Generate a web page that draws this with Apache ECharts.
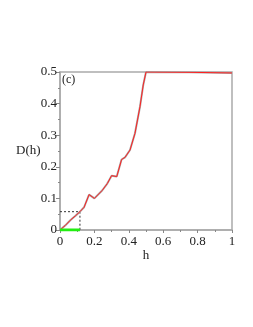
<!DOCTYPE html>
<html><head><meta charset="utf-8">
<script src="https://cdn.jsdelivr.net/npm/echarts@6/dist/echarts.min.js"></script>
<style>html,body{margin:0;padding:0;background:#fff}#c{width:253px;height:327px}</style>
</head><body><div id="c"></div>
<script>
const hVals = [0, 0.03, 0.06, 0.09, 0.116, 0.14, 0.169, 0.2, 0.245, 0.275, 0.30, 0.33, 0.358, 0.378, 0.407, 0.436, 0.465, 0.484, 0.5, 0.75, 1];
const dVals = [0, 0.014, 0.031, 0.045, 0.058, 0.072, 0.112, 0.100, 0.125, 0.147, 0.172, 0.169, 0.223, 0.230, 0.253, 0.306, 0.390, 0.459, 0.500, 0.499, 0.497];
const greenH = [0, 0.116];
const boxH = [0, 0.116, 0.116];
const boxD = [0.058, 0.058, 0];
const xTicks = [0, 0.2, 0.4, 0.6, 0.8, 1];
const yTicks = [0, 0.1, 0.2, 0.3, 0.4, 0.5];

const pairs = (a, b) => a.map((v, i) => [v, b[i]]);
const font = 'Liberation Serif';
const chart = echarts.init(document.getElementById('c'), null, {renderer: 'canvas'});
chart.setOption({
  animation: false,
  grid: {left: 60, right: 21, top: 72, bottom: 97, show: true, borderColor: '#aaa', borderWidth: 1.5},
  xAxis: {
    type: 'value', min: 0, max: 1, interval: 0.2,
    name: 'h', nameLocation: 'middle', nameGap: 19,
    nameTextStyle: {fontFamily: font, fontSize: 13, color: '#222'},
    axisLine: {show: true, lineStyle: {color: '#aaa', width: 1.5}},
    axisTick: {show: true, inside: false, length: 3, lineStyle: {color: '#888'}},
    minorTick: {show: true, splitNumber: 2, length: 2, lineStyle: {color: '#888'}},
    splitLine: {show: false},
    axisLabel: {fontFamily: font, fontSize: 13, color: '#222', margin: 5,
      formatter: v => xTicks.includes(Math.round(v * 10) / 10) ? String(Math.round(v * 10) / 10) : ''}
  },
  yAxis: {
    type: 'value', min: 0, max: 0.5, interval: 0.1,
    axisLine: {show: true, lineStyle: {color: '#aaa', width: 1.5}},
    axisTick: {show: true, inside: false, length: 4, lineStyle: {color: '#888'}},
    minorTick: {show: true, splitNumber: 2, length: 2, lineStyle: {color: '#888'}},
    splitLine: {show: false},
    axisLabel: {fontFamily: font, fontSize: 13, color: '#222', margin: 3,
      formatter: v => yTicks.includes(Math.round(v * 10) / 10) ? String(Math.round(v * 10) / 10) : ''}
  },
  graphic: [
    {type: 'text', left: 16, top: 144, style: {text: 'D(h)', font: '13px "Liberation Serif"', fill: '#222'}},
    {type: 'text', left: 62, top: 74, style: {text: '(c)', font: '12px "Liberation Serif"', fill: '#222'}}
  ],
  series: [
    {type: 'line', data: pairs(boxH, boxD), symbol: 'none', z: 1,
      lineStyle: {color: '#333', width: 1, type: [2, 2]}},
    {type: 'line', data: pairs(hVals, dVals), symbol: 'none', z: 2,
      lineStyle: {color: '#aaa', width: 2}},
    {type: 'line', data: pairs(hVals, dVals), symbol: 'none', z: 3,
      lineStyle: {color: '#ff2020', width: 1}},
    {type: 'line', data: pairs(greenH, [0, 0]), symbol: 'none', z: 4,
      lineStyle: {color: '#22ee11', width: 3}}
  ]
});
</script></body></html>
